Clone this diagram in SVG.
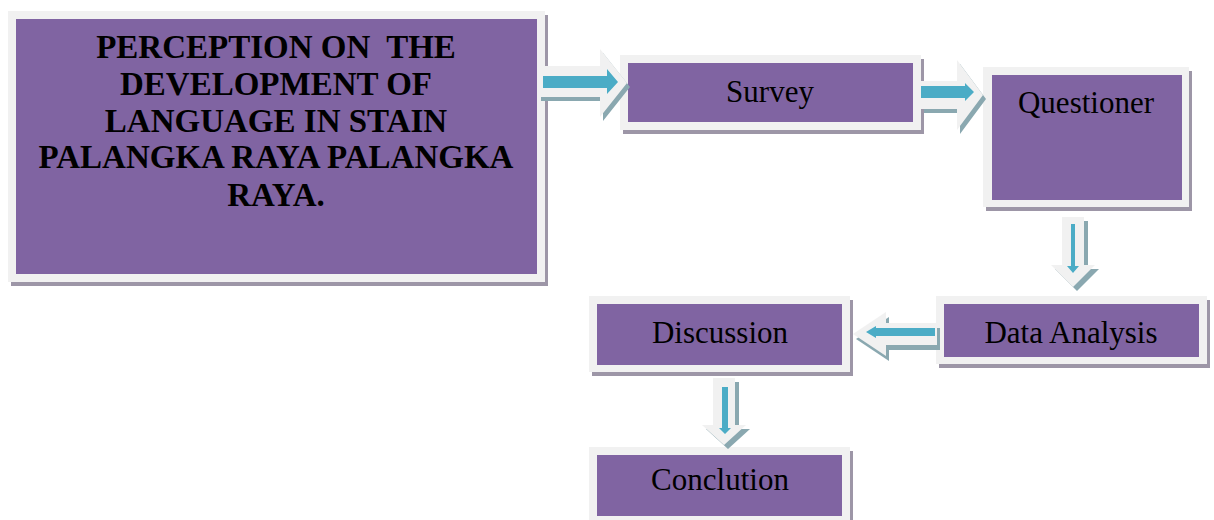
<svg xmlns="http://www.w3.org/2000/svg" width="1214" height="520" viewBox="0 0 1214 520">
<style>
.sh{fill:#9d96a7}
.fr{fill:#f1f1f1}
.pu{fill:#8064a2}
.t{font-family:"Liberation Serif","Times New Roman",serif;font-size:31px;fill:#000;text-anchor:middle}
.tb{font-family:"Liberation Serif","Times New Roman","DejaVu Serif",serif;font-size:33px;font-weight:700;fill:#000;text-anchor:middle;white-space:pre}
.ash{fill:#8aa8b0}
.aout{fill:#f1f1f1}
.ain{fill:#4bacc6}
</style>
<defs>
<polygon id="a1" points="538,66 600,66 600,49 627,83 600,117 600,97 538,97"/>
<polygon id="a2" points="921,81 957,81 957,60 983,95 957,130 957,109 921,109"/>
<polygon id="a3" points="1062,217 1084,217 1084,265 1095,265 1073,287 1051,265 1062,265"/>
<polygon id="a4" points="937,323 886,323 886,312 853,334 886,356 886,345 937,345"/>
<polygon id="a5" points="713,378 735,378 735,425 746,425 724,445 702,425 713,425"/>
</defs>
<g id="node-title">
<rect class="sh" x="11" y="15" width="537" height="271"/>
<rect class="fr" x="8" y="11" width="537" height="271"/>
<rect class="pu" x="16" y="19" width="521" height="255"/>
<text class="tb" x="276" y="58">PERCEPTION ON  THE</text>
<text class="tb" x="276" y="95">DEVELOPMENT OF</text>
<text class="tb" x="276" y="132">LANGUAGE IN STAIN</text>
<text class="tb" x="276" y="168">PALANGKA RAYA PALANGKA</text>
<text class="tb" x="276" y="206">RAYA.</text>
</g>
<g id="node-survey">
<rect class="sh" x="623" y="59" width="301" height="75"/>
<rect class="fr" x="620" y="55" width="301" height="75"/>
<rect class="pu" x="628" y="63" width="285" height="59"/>
<text class="t" x="770" y="102">Survey</text>
</g>
<g id="node-questioner">
<rect class="sh" x="986" y="71" width="206" height="140"/>
<rect class="fr" x="983" y="67" width="206" height="140"/>
<rect class="pu" x="992" y="75" width="190" height="125"/>
<text class="t" x="1086" y="113">Questioner</text>
</g>
<g id="node-data-analysis">
<rect class="sh" x="939" y="300" width="271" height="68"/>
<rect class="fr" x="936" y="296" width="271" height="68"/>
<rect class="pu" x="944" y="304" width="255" height="53"/>
<text class="t" x="1071" y="343">Data Analysis</text>
</g>
<g id="node-discussion">
<rect class="sh" x="592" y="300" width="261" height="76"/>
<rect class="fr" x="589" y="296" width="261" height="76"/>
<rect class="pu" x="597" y="304" width="245" height="61"/>
<text class="t" x="720" y="343">Discussion</text>
</g>
<g id="node-conclution">
<rect class="sh" x="592" y="451" width="261" height="80"/>
<rect class="fr" x="589" y="447" width="261" height="80"/>
<rect class="pu" x="597" y="455" width="245" height="61"/>
<text class="t" x="720" y="490">Conclution</text>
</g>
<g id="connectors">
<g id="arrow-title-survey">
<use href="#a1" class="ash" transform="translate(3,4)"/>
<use href="#a1" class="aout"/>
<polygon class="ain" points="543,76 607,76 607,69 618,82 607,94 607,88 543,88"/>
</g>
<g id="arrow-survey-questioner">
<use href="#a2" class="ash" transform="translate(3,4)"/>
<use href="#a2" class="aout"/>
<polygon class="ain" points="921,86 965,86 965,83 974,92 965,101 965,98 921,98"/>
</g>
<g id="arrow-questioner-data">
<use href="#a3" class="ash" transform="translate(4,4)"/>
<use href="#a3" class="aout"/>
<polygon class="ain" points="1071,224 1075,224 1075,266 1079,266 1073,273 1067,266 1071,266"/>
</g>
<g id="arrow-data-discussion">
<use href="#a4" class="ash" transform="translate(3,5)"/>
<use href="#a4" class="aout"/>
<polygon class="ain" points="935,328 876,328 876,326 866,332 876,338 876,336 935,336"/>
</g>
<g id="arrow-discussion-conclution">
<use href="#a5" class="ash" transform="translate(4,4)"/>
<use href="#a5" class="aout"/>
<polygon class="ain" points="722,387 728,387 728,428 731,428 725,434 719,428 722,428"/>
</g>
</g>
</svg>
